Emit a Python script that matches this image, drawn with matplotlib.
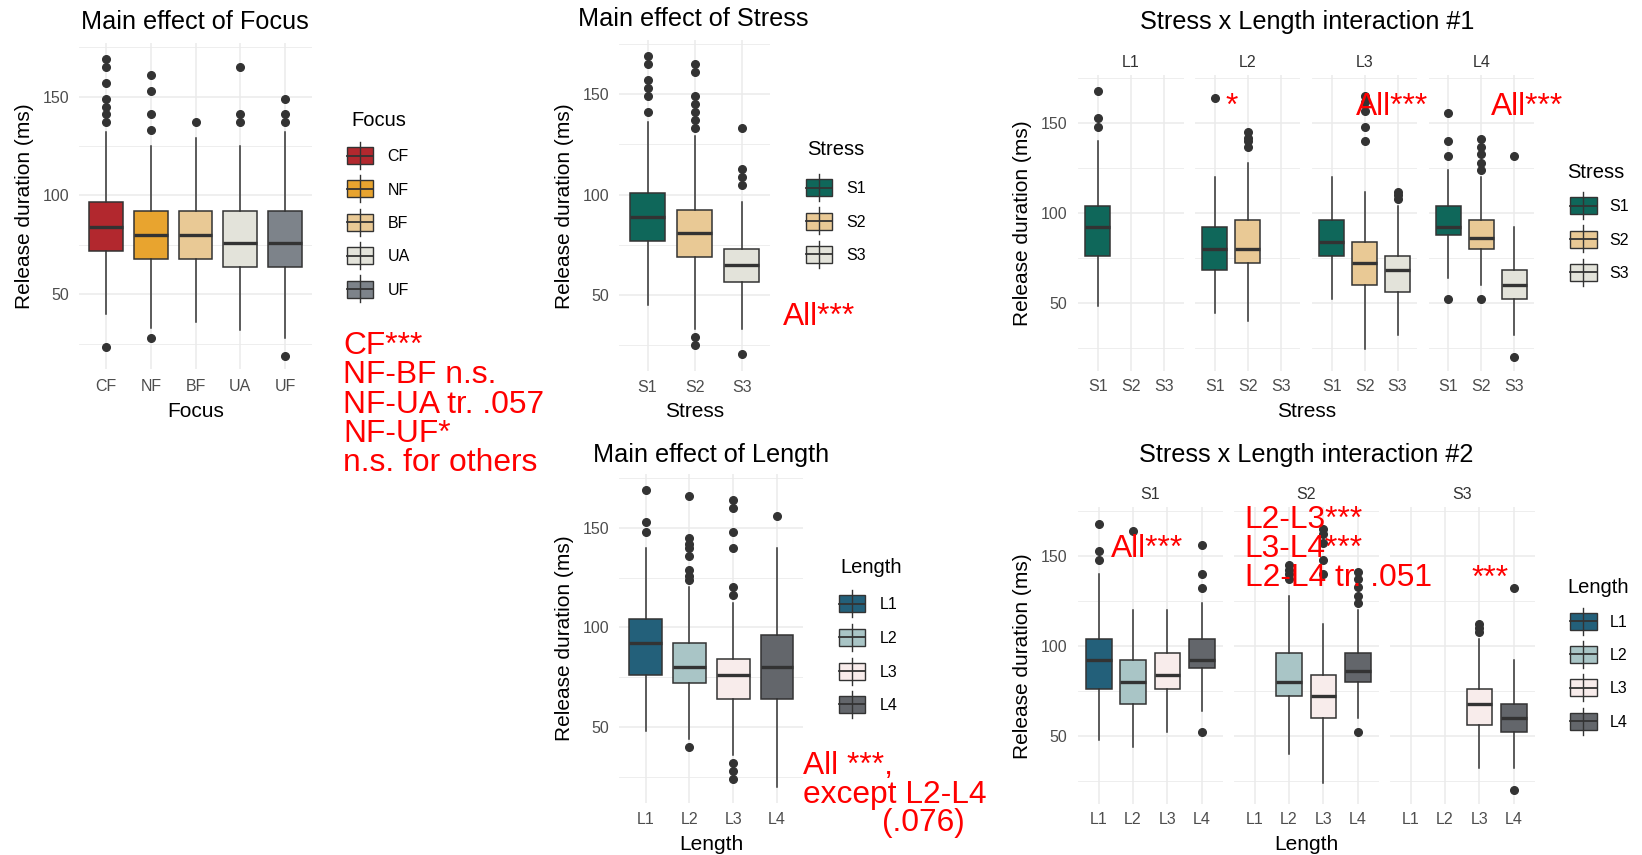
import matplotlib.pyplot as plt
from matplotlib.transforms import Affine2D
from matplotlib.patches import Rectangle
from matplotlib.lines import Line2D

plt.rcParams['font.family'] = ['Liberation Sans', 'DejaVu Sans']

W, H = 1642, 855

# ---------------- data (release duration, ms) ----------------
focus_cats = ['CF', 'NF', 'BF', 'UA', 'UF']
focus_colors = ['#B2282E', '#E8A42F', '#E9C995', '#E3E3DA', '#7D838A']
focus_lo = [40, 33, 36, 32, 28]
focus_q1 = [72, 68, 68, 64, 64]
focus_med = [84, 80, 80, 76, 76]
focus_q3 = [96.5, 92, 92, 92, 92]
focus_hi = [132, 125, 129, 125, 132]
focus_out = [[169, 165, 157, 149, 145, 141, 137, 23.5],
             [161, 153, 141, 133, 28],
             [137],
             [165, 141, 137],
             [149, 141, 137, 19]]

stress_cats = ['S1', 'S2', 'S3']
stress_colors = ['#0F675A', '#E9C995', '#E3E3DA']
stress_lo = [45, 33, 33]
stress_q1 = [77, 69, 56.5]
stress_med = [89, 81, 65]
stress_q3 = [101, 92.5, 73]
stress_hi = [136, 129, 96.5]
stress_out = [[169, 165, 157, 153, 149, 141],
              [165, 161, 149, 145, 141, 137, 133, 29, 25],
              [133, 113, 109, 105, 20.5]]

length_cats = ['L1', 'L2', 'L3', 'L4']
length_colors = ['#23607A', '#A9C5C6', '#F8ECEB', '#63666B']
length_lo = [48, 44, 36, 20]
length_q1 = [76, 72, 64, 64]
length_med = [92, 80, 76, 80]
length_q3 = [104, 92, 84, 96]
length_hi = [140, 120, 112, 140]
length_out = [[169, 153, 148],
              [166, 145, 142, 140, 136, 129, 126, 124, 40],
              [164, 160, 148, 140, 120, 116, 32, 28, 24],
              [156]]

# stress x length cells: rows S1..S3, columns L1..L4 (None = no data)
cell_lo = [[48, 44, 52, 64], [None, 40, 24, 60], [None, None, 32, 32]]
cell_q1 = [[76, 68, 76, 88], [None, 72, 60, 80], [None, None, 56, 52]]
cell_med = [[92, 80, 84, 92], [None, 80, 72, 86], [None, None, 68, 60]]
cell_q3 = [[104, 92, 96, 104], [None, 96, 84, 96], [None, None, 76, 68]]
cell_hi = [[140, 120, 120, 124], [None, 128, 112, 120], [None, None, 104, 92]]
cell_out = [[[168, 153, 148], [164], [], [156, 140, 132, 52]],
            [None, [145, 142, 140, 137], [165, 162, 157, 148, 140], [141, 137, 133, 128, 124, 52]],
            [None, None, [112, 110, 108], [132, 20]]]

EDGE = '#333333'
GRID = '#EBEBEB'
RED = '#FF0000'

fig = plt.figure(figsize=(W / 100, H / 100), dpi=100)
# pixel coordinates, origin top-left
px = Affine2D().scale(1 / W, -1 / H).translate(0, 1) + fig.transFigure


def ptext(x, y, s, size, cap=True, **kw):
    # y is the vertical centre of the capitals when cap=True
    if cap:
        y = y + 0.35 * size * 100 / 72
        kw.setdefault('va', 'baseline')
    fig.text(x, y, s, fontsize=size, transform=px, **kw)


def panel(x0, x1, y0, y1, cats, ylab=True, xpad=6.5):
    ax = fig.add_axes([x0 / W, 1 - y1 / H, (x1 - x0) / W, (y1 - y0) / H])
    n = len(cats)
    ax.set_xlim(0.4, n + 0.6)
    ax.set_ylim(12, 177)
    ax.set_xticks(range(1, n + 1))
    ax.set_xticklabels(cats)
    ax.set_yticks([50, 100, 150])
    ax.set_yticks([25, 75, 125, 175], minor=True)
    if not ylab:
        ax.set_yticklabels([])
    ax.grid(which='major', color=GRID, lw=1.1)
    ax.grid(which='minor', axis='y', color=GRID, lw=0.6)
    ax.set_axisbelow(True)
    for s in ax.spines.values():
        s.set_visible(False)
    ax.tick_params(which='both', length=0, labelsize=11.5, colors='#4D4D4D')
    ax.tick_params(axis='x', pad=xpad)
    ax.tick_params(axis='y', pad=7.5)
    return ax


def boxes(ax, pos, lo, q1, med, q3, hi, out, colors):
    stats = [dict(whislo=a, q1=b, med=c, q3=d, whishi=e, fliers=f)
             for a, b, c, d, e, f in zip(lo, q1, med, q3, hi, out)]
    bp = ax.bxp(stats, positions=pos, widths=0.75, patch_artist=True, showcaps=False,
                manage_ticks=False,
                boxprops=dict(edgecolor=EDGE, linewidth=1.1),
                medianprops=dict(color=EDGE, linewidth=2.4),
                whiskerprops=dict(color=EDGE, linewidth=1.1),
                flierprops=dict(marker='o', markerfacecolor=EDGE, markeredgecolor=EDGE,
                                markersize=5.5))
    for p, c in zip(bp['boxes'], colors):
        p.set_facecolor(c)


def legend(tx, ty, title, labels, colors, kx0, kx1, ys, lx):
    ptext(tx, ty, title, 14.5, color='black')
    xc = (kx0 + kx1) / 2
    for y, lab, c in zip(ys, labels, colors):
        fig.add_artist(Line2D([xc, xc], [y - 13.5, y + 13.5], transform=px, color=EDGE, lw=1.0))
        fig.add_artist(Rectangle((kx0, y - 8.5), kx1 - kx0, 17, transform=px,
                                 facecolor=c, edgecolor=EDGE, lw=1.0))
        fig.add_artist(Line2D([kx0, kx1], [y, y], transform=px, color=EDGE, lw=1.3))
        ptext(lx, y, lab, 11.5, color='black')


def cell_stats(pairs):
    return ([cell_lo[i][j] for i, j in pairs], [cell_q1[i][j] for i, j in pairs],
            [cell_med[i][j] for i, j in pairs], [cell_q3[i][j] for i, j in pairs],
            [cell_hi[i][j] for i, j in pairs], [cell_out[i][j] for i, j in pairs])


YLAB = 'Release duration (ms)'

# ---- Main effect of Focus ----
ax = panel(79.3, 311.8, 43.3, 369.4, focus_cats, xpad=7)
boxes(ax, range(1, 6), focus_lo, focus_q1, focus_med, focus_q3, focus_hi, focus_out, focus_colors)
ptext(81.4, 20, 'Main effect of Focus', 18.2)
ptext(195.7, 409.5, 'Focus', 15, ha='center')
ptext(25, 206.4, YLAB, 15, cap=False, rotation=90, ha='center', va='center')
legend(351.8, 119.2, 'Focus', focus_cats, focus_colors, 347.1, 373.2,
       [155.7, 189, 222.3, 255.7, 289], 387.5)

# ---- Main effect of Stress ----
ax = panel(619.3, 770, 40.1, 371.3, stress_cats, xpad=6)
boxes(ax, range(1, 4), stress_lo, stress_q1, stress_med, stress_q3, stress_hi, stress_out,
      stress_colors)
ptext(578.3, 17.2, 'Main effect of Stress', 18.2)
ptext(694.3, 409.3, 'Stress', 15, ha='center')
ptext(564, 205.7, YLAB, 15, cap=False, rotation=90, ha='center', va='center')
legend(807.3, 148, 'Stress', stress_cats, stress_colors, 806, 831.7, [187.7, 221, 254.3], 846)

# ---- Main effect of Length ----
ax = panel(619.3, 803.3, 473.9, 802.7, length_cats, xpad=6.5)
boxes(ax, range(1, 5), length_lo, length_q1, length_med, length_q3, length_hi, length_out,
      length_colors)
ptext(592.7, 452.8, 'Main effect of Length', 18.2)
ptext(711, 842.5, 'Length', 15, ha='center')
ptext(564, 638.3, YLAB, 15, cap=False, rotation=90, ha='center', va='center')
legend(840.7, 566.2, 'Length', length_cats, length_colors, 839, 865,
       [603.7, 637, 671, 704.3], 879.3)

# ---- Stress x Length interaction #1 (facets by length) ----
for j, lab in enumerate(length_cats):
    x0 = 1078 + 116.9 * j
    ax = panel(x0, x0 + 105.5, 74.9, 370.9, stress_cats, ylab=(j == 0), xpad=6)
    pairs = [(i, j) for i in range(3) if cell_lo[i][j] is not None]
    boxes(ax, [i + 1 for i, _ in pairs], *cell_stats(pairs), [stress_colors[i] for i, _ in pairs])
    ptext(x0 + 52.7, 61.7, lab, 11.5, ha='center', color=EDGE)
ptext(1139.8, 20, 'Stress x Length interaction #1', 18.2)
ptext(1306.6, 409.3, 'Stress', 15, ha='center')
ptext(1023, 222.9, YLAB, 15, cap=False, rotation=90, ha='center', va='center')
legend(1567, 170.8, 'Stress', stress_cats, stress_colors, 1570, 1596.5,
       [205.7, 239, 272.3], 1609.7)

# ---- Stress x Length interaction #2 (facets by stress) ----
for i, lab in enumerate(stress_cats):
    x0 = 1078 + 156 * i
    ax = panel(x0, x0 + 144.5, 507.4, 804.4, length_cats, ylab=(i == 0), xpad=5.3)
    pairs = [(i, j) for j in range(4) if cell_lo[i][j] is not None]
    boxes(ax, [j + 1 for _, j in pairs], *cell_stats(pairs), [length_colors[j] for _, j in pairs])
    ptext(x0 + 72.2, 493.8, lab, 11.5, ha='center', color=EDGE)
ptext(1138.9, 452.8, 'Stress x Length interaction #2', 18.2)
ptext(1306.6, 842.5, 'Length', 15, ha='center')
ptext(1023, 655.9, YLAB, 15, cap=False, rotation=90, ha='center', va='center')
legend(1567, 585.8, 'Length', length_cats, length_colors, 1570, 1596.5,
       [621, 654.3, 687.7, 721], 1609.7)

# ---- significance notes ----
FS = 22.9
for k, s in enumerate(['CF***', 'NF-BF n.s.', 'NF-UA tr. .057', 'NF-UF*', 'n.s. for others']):
    ptext(342.9, 342.7 + 29.4 * k, s, FS, color=RED, zorder=10)
ptext(783.3, 313.7, 'All***', FS, color=RED, zorder=10)
ptext(1225, 104, '*', FS, color=RED, zorder=10)
ptext(1356, 104.2, 'All***', FS, color=RED, zorder=10)
ptext(1490.6, 104.2, 'All***', FS, color=RED, zorder=10)
ptext(802.7, 762.5, 'All ***,', FS, color=RED, zorder=10)
ptext(802.7, 792.2, 'except L2-L4', FS, color=RED, zorder=10)
ptext(881.7, 820.3, '(.076)', FS, color=RED, zorder=10)
ptext(1111, 545.8, 'All***', FS, color=RED, zorder=10)
for k, s in enumerate(['L2-L3***', 'L3-L4***', 'L2-L4 tr. .051']):
    ptext(1244.8, 516.7 + 29.1 * k, s, FS, color=RED, zorder=10)
ptext(1471.6, 575.5, '***', FS, color=RED, zorder=10)

fig.savefig('out.png', dpi=100)
